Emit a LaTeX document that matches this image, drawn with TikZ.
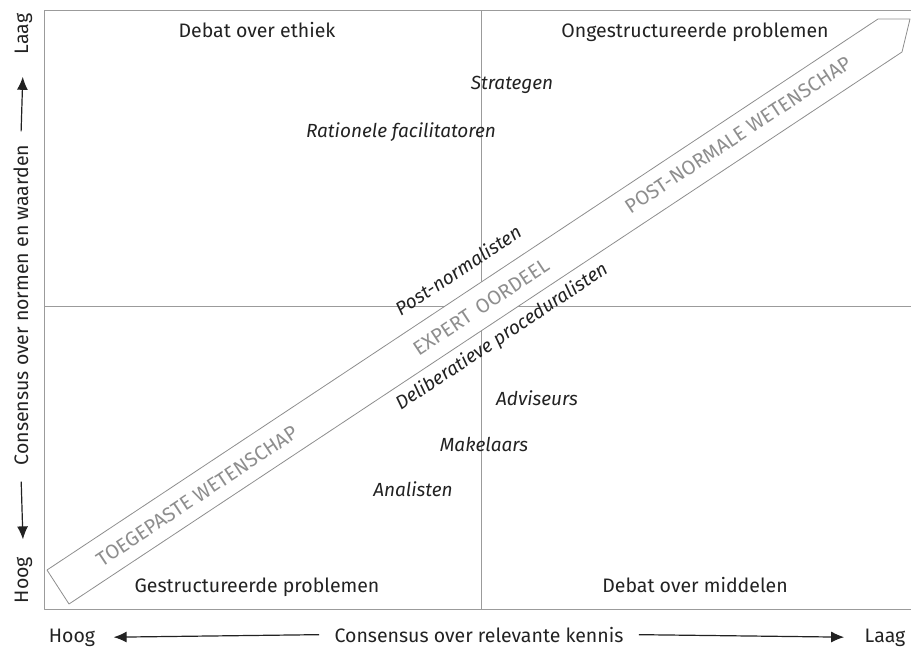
\documentclass[tikz,border=0pt]{standalone}
\usepackage{fontspec}
\setmainfont{Fira Sans}
\usetikzlibrary{arrows.meta}
\definecolor{kadergrijs}{HTML}{9B9B9B}
\definecolor{bandgrijs}{HTML}{8E8E8E}
\definecolor{inkt}{HTML}{222222}
\tikzset{
  kwadrant/.style={anchor=base,text=inkt,font=\fontsize{19.5}{22}\selectfont},
  rol/.style={anchor=base,text=inkt,font=\fontsize{19}{22}\selectfont\itshape},
  bandtekst/.style={text=bandgrijs,rotate=33.55,font=\fontsize{20}{22}\selectfont},
  as/.style={anchor=base,text=inkt,font=\fontsize{19.5}{22}\selectfont},
  aspijl/.style={draw=inkt,line width=1.2pt,-{Latex[length=13pt,width=11pt]}}
}
\begin{document}
\begin{tikzpicture}[x=1pt,y=-1pt,line join=round]
\useasboundingbox (0,0) rectangle (911,648);
% kader en kwadranten
\draw[kadergrijs,line width=0.9pt] (911,10) -- (44,10) -- (44,609) -- (911,609);
\draw[kadergrijs,line width=0.9pt] (481,10) -- (481,609) (44,306) -- (911,306);
% de band
\filldraw[draw=bandgrijs,fill=white,line width=0.8pt]
  (47,570) -- (878,19) -- (910,19) -- (902,52) -- (69,604) -- cycle;
\node[bandtekst] (toegepast) at (197,496) {TOEGEPASTE WETENSCHAP};
\node[bandtekst] (expert) at (481,307) {EXPERT\, OORDEEL};
\node[bandtekst] (postnormaal) at (738,135) {POST-NORMALE WETENSCHAP};
% kwadranten
\node[kwadrant] (ethiek) at (257,37) {Debat over ethiek};
\node[kwadrant] (ongestr) at (695,37) {Ongestructureerde problemen};
\node[kwadrant] (gestr) at (257,592) {Gestructureerde problemen};
\node[kwadrant] (middelen) at (695,592) {Debat over middelen};
% rollen
\node[rol] (strategen) at (512,89) {Strategen};
\node[rol] (facilitatoren) at (401,137) {Rationele facilitatoren};
\node[rol,anchor=center,rotate=33.55] (postnorm) at (458,270) {Post-normalisten};
\node[rol,anchor=center,rotate=33.55] (delib) at (502,337) {Deliberatieve proceduralisten};
\node[rol] (adviseurs) at (537,405) {Adviseurs};
\node[rol] (makelaars) at (484,451) {Makelaars};
\node[rol] (analisten) at (413,496) {Analisten};
% assen
\node[as] (hoogx) at (72,642) {Hoog};
\node[as] (kennis) at (479,642) {Consensus over relevante kennis};
\node[as] (laagx) at (885,642) {Laag};
\node[as,rotate=90] (laagy) at (28,34) {Laag};
\node[as,rotate=90] (normen) at (28,305) {Consensus over normen en waarden};
\node[as,rotate=90] (hoogy) at (28,580) {Hoog};
\draw[aspijl,shorten <=12pt,shorten >=15pt] (kennis.west) -- (hoogx.east);
\draw[aspijl,shorten <=12pt,shorten >=17pt] (kennis.east) -- (laagx.west);
\draw[aspijl,shorten <=10pt,shorten >=19pt] (normen.east) -- (laagy.west);
\draw[aspijl,shorten <=13pt,shorten >=14pt] (normen.west) -- (hoogy.east);
\end{tikzpicture}
\end{document}
